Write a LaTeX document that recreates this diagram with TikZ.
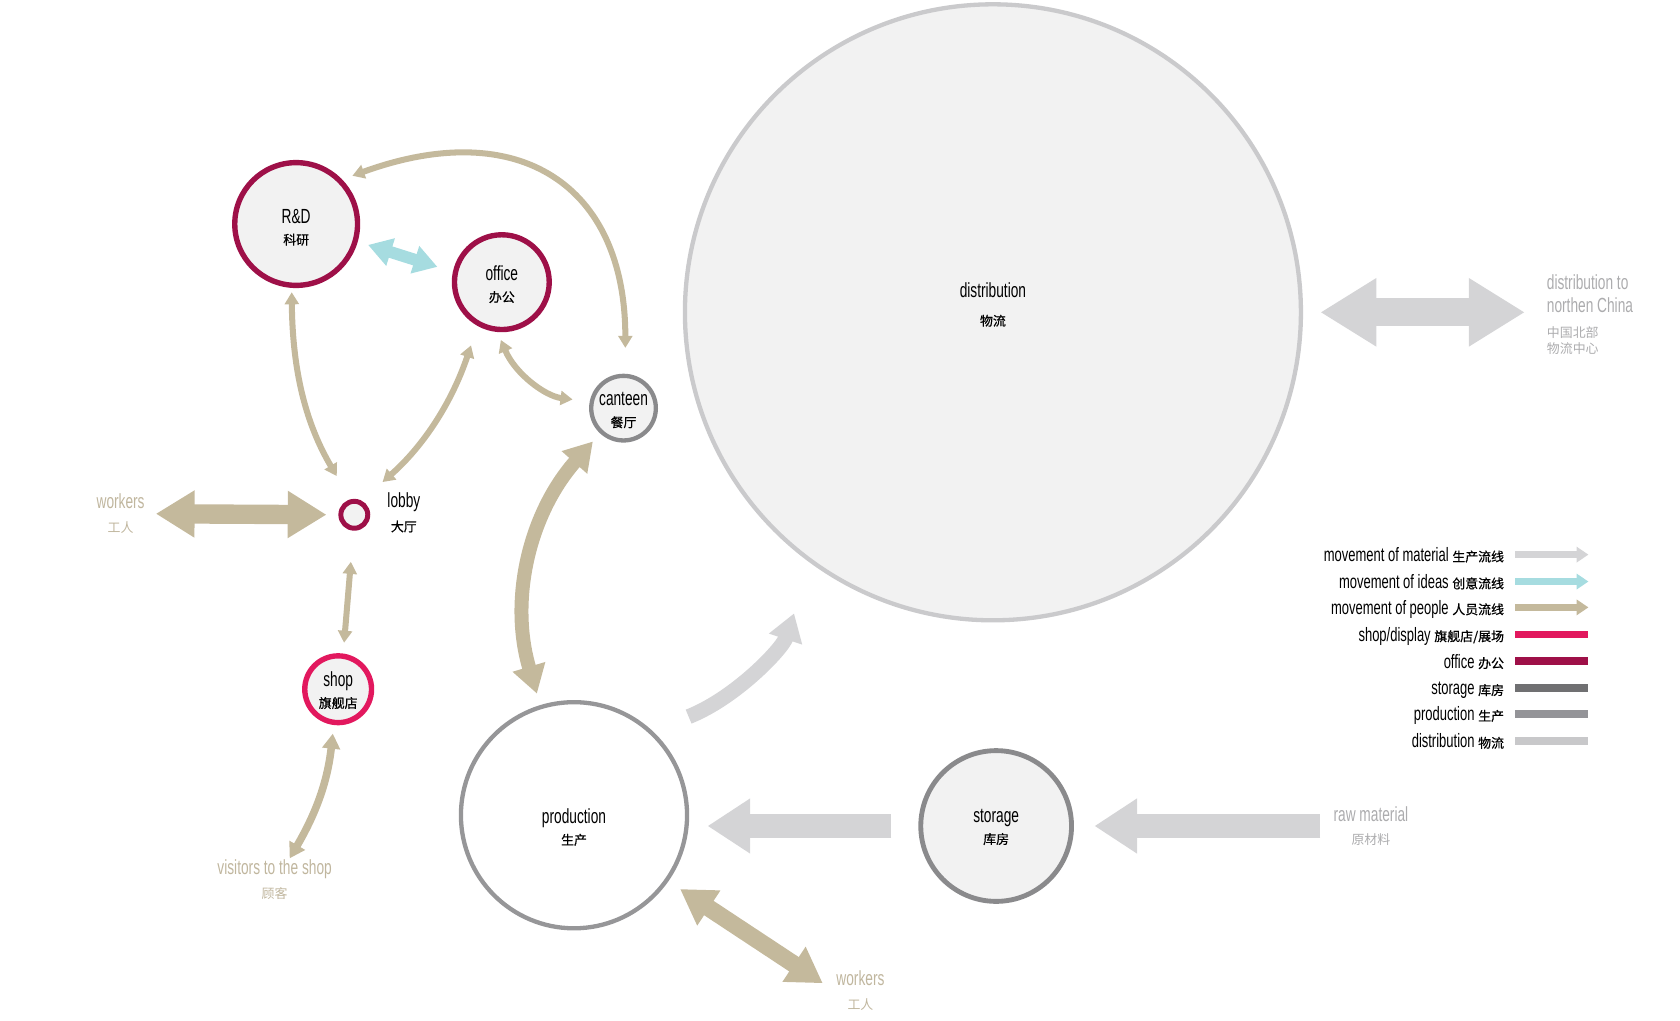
\documentclass[tikz,border=0pt]{standalone}
\usepackage{fontspec}
\setmainfont{Liberation Sans}[FakeStretch=0.67]
\newfontfamily\cjk{Noto Sans CJK SC}
\newfontfamily\cjkm{Noto Sans CJK SC}[FakeBold=0.6]
\usetikzlibrary{arrows.meta}

\definecolor{officec}{RGB}{158,16,72}
\definecolor{shopc}{RGB}{226,24,94}
\definecolor{ringc}{RGB}{138,138,140}
\definecolor{prodc}{RGB}{150,150,152}
\definecolor{distc}{RGB}{202,202,204}
\definecolor{roomfill}{RGB}{242,242,242}
\definecolor{peoplec}{RGB}{196,185,156}
\definecolor{ideasc}{RGB}{166,220,224}
\definecolor{materialc}{RGB}{212,212,214}
\definecolor{tanlabel}{RGB}{192,182,158}
\definecolor{graylabel}{RGB}{172,172,174}
\definecolor{storebar}{RGB}{112,112,114}
\definecolor{prodbar}{RGB}{148,148,152}
\definecolor{distbar}{RGB}{200,200,202}

\newcommand\cn[1]{{\cjk\fontsize{6}{8}\selectfont #1}}
\newcommand\cnm[1]{{\cjkm\fontsize{6}{8}\selectfont #1}}

\begin{document}
\begin{tikzpicture}[
        x=0.5pt, y=-0.5pt,
        font=\fontsize{9.5}{11}\selectfont
    ]
    \tikzset{
        room/.style = {circle, fill=roomfill, inner sep=0pt},
        note/.style = {align=center, inner sep=0pt},
        roomtext/.style = {note, yshift=-2pt},
        legend/.style = {anchor=east, inner sep=0pt, text height=1.6ex, text depth=.4ex, font=\fontsize{9}{10}\selectfont},
        people/.style = {draw=peoplec},
        ideas/.style = {draw=ideasc},
        material/.style = {draw=materialc},
        twoway/.style = {line width=#1, arrows={Triangle[width=0pt 2.3,length=0pt 2]-Triangle[width=0pt 2.3,length=0pt 2]}},
        oneway/.style = {line width=#1, arrows={-Triangle[width=0pt 2.2,length=0pt 1.8]}},
        legarrow/.style = {line width=3pt, arrows={-Triangle[width=7pt,length=5.5pt]}},
        legbar/.style = {line width=3.5pt},
    }
    \useasboundingbox (0,0) rectangle (1560,948);

    \node[room, draw=officec, line width=2.5pt, minimum size=57pt,
        label={[roomtext, yshift=0.5pt]center:{R\&D\\[-1pt]\cnm{科研}}}] (rd) at (275,208) {};
    \node[room, draw=officec, line width=2.5pt, minimum size=44pt,
        label={[roomtext, yshift=1pt]center:{office\\[-1pt]\cnm{办公}}}] (office) at (466,262) {};
    \node[room, draw=ringc, line width=2pt, minimum size=30pt,
        label={[roomtext, yshift=1pt]center:{canteen\\[-1pt]\cnm{餐厅}}}] (canteen) at (579,379) {};
    \node[room, draw=officec, line width=2.3pt, minimum size=12.5pt] (lobby) at (329,478) {};
    \node[note] (lobbytxt) at (375,476) {lobby\\\cnm{大厅}};
    \node[room, draw=shopc, line width=2.5pt, minimum size=31pt,
        label={[roomtext, yshift=1.5pt]center:{shop\\[-1pt]\cnm{旗舰店}}}] (shop) at (314,640) {};
    \node[room, draw=distc, line width=2pt, minimum size=286pt,
        label={[roomtext, yshift=5.5pt]center:{distribution\\[2pt]\cnm{物流}}}] (dist) at (922,290) {};
    \node[room, draw=prodc, fill=white, line width=2pt, minimum size=105pt,
        label={[roomtext, yshift=-3.5pt]center:{production\\[-1pt]\cnm{生产}}}] (prod) at (533,757) {};
    \node[room, draw=ringc, line width=2.25pt, minimum size=70pt,
        label={[roomtext, yshift=1.5pt]center:{storage\\[-1pt]\cnm{库房}}}] (storage) at (925,767) {};

    \node[note, text=tanlabel] (wk1) at (112,477) {workers\\\cn{工人}};
    \node[note, text=tanlabel] (vis) at (255,817) {visitors to the shop\\\cn{顾客}};
    \node[note, text=tanlabel] (wk2) at (799,920) {workers\\\cn{工人}};
    \node[note, text=graylabel] (raw) at (1273,767) {raw material\\\cn{原材料}};
    \node[note, text=graylabel, align=left, anchor=north west, font=\fontsize{9.5}{10.5}\selectfont] (north) at (1436,255) {distribution to\\northen China\\[1pt]\cn{中国北部}\\[-3pt]\cn{物流中心}};

    \coordinate (vistip) at (269,797);
    \coordinate (wk2tip) at (764,913);

    \draw[people, twoway=2.8pt, shorten <=2pt, shorten >=12.5pt] (rd.266) to[bend right=15] (lobby.104);
    \draw[people, twoway=2.8pt, shorten <=9.5pt, shorten >=13pt] (office.241) to[bend left=15] (lobby.63);
    \draw[ideas, twoway=5.5pt, shorten <=5pt, shorten >=7.5pt] (rd.344) -- (office.168);
    \draw[people, twoway=2.8pt, shorten <=5pt, shorten >=12pt] (rd.44) to[out=20, in=90, looseness=1.4] (canteen.87);
    \draw[people, twoway=2.8pt, shorten <=4pt, shorten >=8pt] (office.265) to[bend right=30] (canteen.169);
    \draw[people, twoway=6.5pt, shorten <=5pt, shorten >=5.5pt] (canteen.227) to[bend right=29] (prod.107);
    \draw[people, twoway=2.8pt, shorten <=14.5pt, shorten >=5pt] (lobby.267) -- (shop.82);
    \draw[people, twoway=3.5pt, shorten <=4pt] (shop.263) to[bend left=12] (vistip);
    \draw[people, twoway=8pt, shorten <=6.5pt] (prod.325) -- (wk2tip);
    \draw[people, twoway=9pt, shorten <=5pt, shorten >=5.5pt] (wk1.east) -- (lobby.west);

    \draw[material, oneway=7pt, shorten <=18pt, shorten >=24.5pt] (prod.47) to[bend right=25] (dist.234);
    \draw[material, oneway=11pt, shorten <=12.5pt, shorten >=8.5pt] (storage.west) -- (storage.west -| prod.east);
    \draw[material, oneway=11pt, shorten <=6pt, shorten >=9.5pt] (raw.west) -- (storage.east);
    \draw[material, twoway=13pt, shorten <=8pt, shorten >=10pt] (dist.east) -- (dist.east -| north.west);

    \node[legend] (lg1) at (1397,515) {movement of material \cnm{生产流线}};
    \node[legend] (lg2) at (1397,540) {movement of ideas \cnm{创意流线}};
    \node[legend] (lg3) at (1397,564) {movement of people \cnm{人员流线}};
    \node[legend] (lg4) at (1397,589) {shop/display \cnm{旗舰店/展场}};
    \node[legend] (lg5) at (1397,614) {office \cnm{办公}};
    \node[legend] (lg6) at (1397,639) {storage \cnm{库房}};
    \node[legend] (lg7) at (1397,663) {production \cnm{生产}};
    \node[legend] (lg8) at (1397,688) {distribution \cnm{物流}};
    \draw[material, legarrow] ([xshift=5pt]lg1.east) -- ++(68,0);
    \draw[ideas, legarrow] ([xshift=5pt]lg2.east) -- ++(68,0);
    \draw[people, legarrow] ([xshift=5pt]lg3.east) -- ++(68,0);
    \draw[shopc, legbar] ([xshift=5pt]lg4.east) -- ++(68,0);
    \draw[officec, legbar] ([xshift=5pt]lg5.east) -- ++(68,0);
    \draw[storebar, legbar] ([xshift=5pt]lg6.east) -- ++(68,0);
    \draw[prodbar, legbar] ([xshift=5pt]lg7.east) -- ++(68,0);
    \draw[distbar, legbar] ([xshift=5pt]lg8.east) -- ++(68,0);
\end{tikzpicture}
\end{document}
